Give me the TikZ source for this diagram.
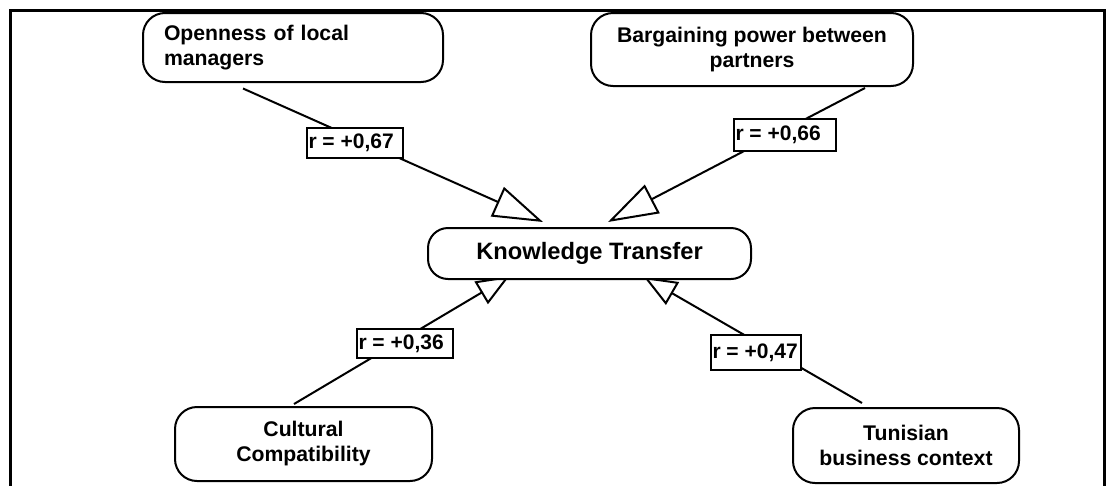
\documentclass[tikz,border=0pt]{standalone}
\usepackage{fontspec}
\setmainfont{Liberation Sans}
\usetikzlibrary{arrows.meta,calc}
\pgfdeclarelayer{bgfill}
\pgfdeclarelayer{lines}
\pgfsetlayers{bgfill,lines,main}
\begin{document}
\begin{tikzpicture}[x=1pt,y=-1pt,
  box/.style={draw, line width=2pt, rounded corners=22pt, fill=white,
    font=\fontsize{21.2}{25}\selectfont\bfseries, align=center, inner sep=0pt},
  lbl/.style={draw, line width=2pt, fill=white,
    font=\fontsize{21}{25}\selectfont\bfseries, inner xsep=1.5pt, inner ysep=0pt},
  conn/.style={line width=2pt, -{Triangle[open, length=50pt, width=32pt]}},
  connsmall/.style={line width=2pt, -{Triangle[open, length=33pt, width=26pt]}},
  frame/.style={line width=2.5pt}
]
\useasboundingbox (0,0) rectangle (1107,485);
\begin{pgfonlayer}{bgfill}
  \fill[white] (0,0) rectangle (1107,485);
\end{pgfonlayer}

% frame
\draw[frame] (10.5,490) -- (10.5,10.5) -- (1104.5,10.5) -- (1104.5,490);

% nodes
\node[box, minimum width=300pt, minimum height=69pt, text width=258pt, align=left]
  (open) at (293,47.5) {Openness of local\\managers};
\node[box, minimum width=322pt, minimum height=73pt]
  (barg) at (752,49.5) {Bargaining power between\\partners};
\node[box, font=\fontsize{23.7}{28}\selectfont\bfseries, rounded corners=20pt,
  minimum width=323pt, minimum height=51pt]
  (kt) at (589.5,253.5) {Knowledge Transfer};
\node[box, minimum width=257pt, minimum height=74pt]
  (cult) at (303.5,444) {Cultural\\Compatibility};
\node[box, minimum width=226pt, minimum height=75pt]
  (tun) at (906,445.5) {Tunisian\\business context};

% labels
\node[lbl, minimum height=30pt] (l67) at (355,143) {\makebox[93pt][l]{r = +0,67}};
\node[lbl, minimum height=32pt] (l66) at (785,135) {\makebox[99pt][l]{r = +0,66}};
\node[lbl, minimum height=29pt] (l36) at (405,343.5) {\makebox[93pt][l]{r = +0,36}};
\node[lbl, minimum height=35pt] (l47) at (756,352.5) {\makebox[87pt][l]{r = +0,47}};

% connector ends
\coordinate (s1) at ($(open.south)+(-50,5.5)$);
\coordinate (t1) at ($(kt.north)+(-46.5,-5)$);
\coordinate (s2) at ($(barg.south)+(113,1)$);
\coordinate (t2) at ($(kt.north)+(18.5,-5)$);
\coordinate (s3) at ($(cult.north)+(-9.5,-2)$);
\coordinate (t3) at ($(kt.south)+(-80,-4)$);
\coordinate (s4) at ($(tun.north)+(-44,-4)$);
\coordinate (t4) at ($(kt.south)+(54.5,-3)$);

\begin{pgfonlayer}{lines}
  \draw[conn] (s1) -- (t1);
  \draw[conn] (s2) -- (t2);
  \draw[connsmall] (s3) -- (t3);
  \draw[connsmall] (s4) -- (t4);
\end{pgfonlayer}
\end{tikzpicture}
\end{document}
